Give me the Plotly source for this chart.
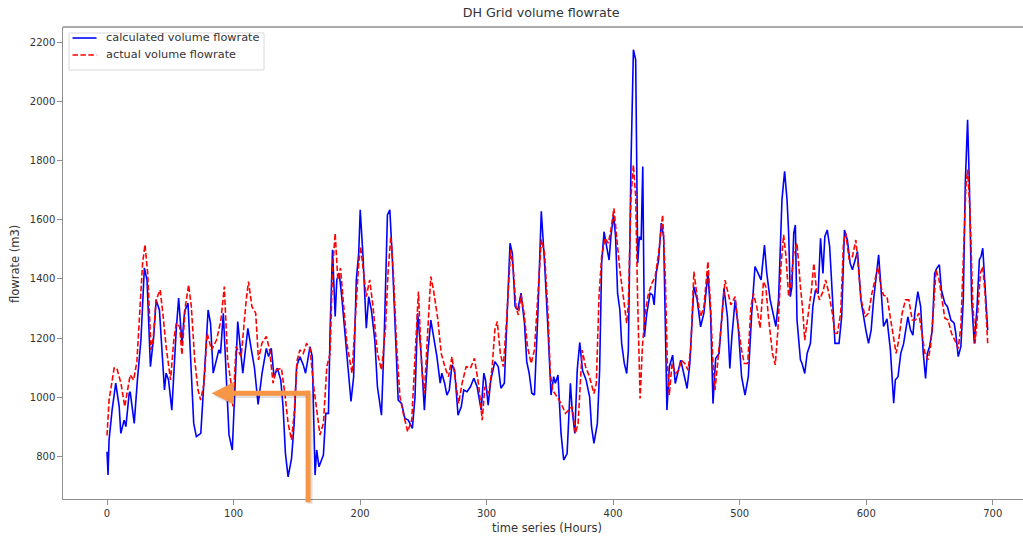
import plotly.graph_objects as go

# ---- data (hours, m3) ----
calc_hours = [0, 0.8, 1.6, 4, 6.9, 9.6, 10.9, 13.5, 14.9, 17.5, 18.3, 21.5, 24, 26.8, 29.5, 31.6, 34.3, 36.9, 38.8, 41.4,
              45.4, 46.7, 48.6, 51.2, 54.7, 56.6, 59.2, 61.3, 64, 68.5, 70.6, 74.1, 77.3, 79.9, 81.8, 83.9, 88.4, 89.7, 91.9, 94.5,
              96.4, 99, 100.5, 103.3, 107.3, 111.3, 113.9, 116.5, 119.4, 122.5, 125.9, 127.7, 129.8, 132, 134.6, 137.3, 139.1, 141, 143.1, 145.8,
              147.9, 149.8, 152.4, 155.1, 156.9, 158.5, 160.4, 162.2, 164.4, 165.7, 167.5, 171, 172.9, 175, 176.3, 178.2, 180.3, 181.6, 183.5, 185.5,
              187.7, 190.4, 192.8, 194.9, 197, 198.9, 200.1, 202.3, 204.9, 206.8, 208.9, 211.6, 213.7, 216.9, 219, 221.6, 223.5, 225.4, 227.5, 230.1,
              232.8, 235.4, 238.1, 241.3, 243.4, 245.5, 248.2, 250.8, 253.5, 255.9, 258.5, 260.7, 263.3, 264.6, 266.8, 268.6, 270.5, 272.6, 274.7, 277.4,
              280, 281.9, 284.5, 287.2, 289.9, 292.5, 295.7, 297.8, 299.1, 301.2, 303.3, 306.5, 309.2, 311.3, 314, 316.1, 318.5, 320.3, 322.5, 324.6,
              327.2, 329.9, 331.7, 333.6, 335.7, 337.8, 340.5, 343.2, 345.8, 348.5, 350.9, 353, 354.3, 356.4, 358.8, 360.9, 363.6, 366.2, 367.6, 369.7,
              371.6, 373.6, 375.8, 378.5, 381.4, 382.9, 384.8, 387.5, 389.3, 390.9, 392.8, 394.6, 396.8, 398.2, 400.3, 401.9, 403.5, 405.3, 406.7, 408.8,
              410.7, 412, 414.1, 416, 417.8, 419.4, 420.7, 422.1, 423.4, 424.7, 426.6, 429.2, 431.1, 432.4, 434, 435.9, 438, 439.9, 441.2, 442.5,
              444.4, 447, 449.1, 451.3, 453.4, 455.8, 458.4, 460.6, 463.8, 466.4, 469.1, 471.7, 474.9, 477, 478.9, 481, 483.7, 487.6, 490.3, 492.2,
              493.8, 496.4, 498.9, 501.5, 504.2, 506.8, 509.5, 512.1, 514.8, 516.9, 519.6, 521.4, 524.1, 526.7, 528.6, 530.7, 533.4, 535.5, 537.4, 538.7,
              540, 541.3, 542.7, 544, 545.3, 548, 549.3, 551.4, 553.3, 555.9, 557.8, 559.9, 562, 563.9, 565.8, 567.3, 569.2, 571.1, 573.2, 575.3,
              578.5, 580.6, 582.8, 585.1, 587.3, 589.1, 591.3, 593.1, 595.8, 597.8, 599.7, 601.8, 603.9, 605.8, 607.6, 609.8, 611.6, 613.7, 616.4, 619.1,
              621.7, 623, 625.1, 627.3, 629.5, 631, 632.9, 635, 636.9, 638.4, 640.8, 643, 645.1, 646.9, 648.3, 650.1, 652.2, 654.1, 655.7, 657.8,
              659.4, 662.1, 664.2, 666.9, 669.5, 670.8, 672.7, 674.8, 676.7, 678.3, 680.1, 681.5, 683.3, 685.4, 687.6, 689.4, 690.7, 692.1, 693.9, 696]
calc_flow = [815, 736, 855, 956, 1047, 968, 877, 922, 900, 1013, 1018, 911, 1058, 1194, 1437, 1397, 1103, 1205, 1329, 1295,
             1024, 1081, 1058, 956, 1228, 1335, 1182, 1290, 1318, 911, 866, 877, 1103, 1295, 1250, 1081, 1160, 1148, 1284, 1013,
             872, 821, 956, 1256, 1081, 1233, 1165, 1100, 975, 1080, 1165, 1137, 1165, 1069, 1098, 1058, 968, 809, 730, 792,
             911, 1103, 1137, 1109, 1081, 1126, 1171, 1137, 736, 821, 764, 804, 945, 945, 1228, 1499, 1273, 1397, 1420, 1340,
             1228, 1081, 985, 1069, 1397, 1487, 1634, 1476, 1233, 1340, 1295, 1194, 1035, 939, 1194, 1617, 1634, 1476, 1228, 990,
             979, 928, 922, 894, 1000, 1284, 1148, 956, 1148, 1261, 1194, 1137, 1047, 1081, 1047, 1007, 1024, 1109, 1092, 939,
             968, 1024, 1018, 1035, 1064, 1035, 956, 1081, 1058, 973, 1058, 1120, 1103, 1030, 1047, 1284, 1521, 1487, 1307, 1295,
             1352, 1250, 1120, 1081, 1013, 1007, 1284, 1629, 1453, 1228, 1007, 1069, 1047, 1075, 877, 787, 809, 1047, 956, 877,
             1092, 1185, 1090, 1060, 1001, 899, 843, 911, 1091, 1453, 1560, 1515, 1464, 1543, 1617, 1543, 1351, 1295, 1182, 1114,
             1080, 1159, 1792, 2176, 2142, 1453, 1543, 1532, 1781, 1204, 1284, 1351, 1346, 1312, 1419, 1464, 1589, 1543, 1250, 956,
             1103, 1142, 1046, 1091, 1125, 1080, 1029, 1114, 1374, 1329, 1238, 1284, 1419, 1284, 978, 1131, 1148, 1368, 1272, 1097,
             1204, 1329, 1235, 1069, 1007, 1069, 1284, 1442, 1419, 1397, 1515, 1419, 1329, 1272, 1239, 1329, 1668, 1764, 1668, 1555,
             1340, 1374, 1555, 1583, 1261, 1126, 1114, 1080, 1148, 1182, 1306, 1363, 1351, 1538, 1419, 1544, 1566, 1510, 1351, 1182,
             1182, 1272, 1566, 1532, 1453, 1431, 1465, 1493, 1329, 1272, 1227, 1182, 1227, 1329, 1397, 1482, 1374, 1239, 1265, 1160,
             979, 1058, 1069, 1148, 1180, 1216, 1272, 1227, 1210, 1284, 1357, 1306, 1148, 1063, 1148, 1171, 1227, 1419, 1436, 1448,
             1363, 1318, 1306, 1261, 1250, 1216, 1137, 1171, 1329, 1724, 1939, 1724, 1329, 1182, 1306, 1465, 1476, 1504, 1385, 1227]

actual_hours = [0, 1.6, 5.6, 7.7, 11, 14, 18.3, 21, 23.6, 25.5, 28.1, 30, 32.1, 34.8, 36.6, 38.8, 42, 44.1, 46.7, 50.2,
                52.8, 54.7, 57.4, 59.2, 61.9, 64.5, 66.6, 69.3, 71.9, 74, 76.7, 79.1, 82.6, 86.6, 90, 92.7, 95.3, 98, 99.5, 102,
                106, 110, 111.8, 114.5, 117.5, 119.7, 122.4, 125.9, 128.5, 131.2, 133.8, 137.8, 140.5, 143.1, 145.8, 147.9, 150.3, 152.4, 155.1, 157.7,
                160.4, 163, 165.7, 168.3, 171, 173.7, 176.3, 178.2, 180.3, 182.4, 184.5, 186.9, 189.5, 193.6, 196.2, 198.9, 200.4, 202.3, 204.9, 207.6,
                210.2, 213.7, 216.9, 220, 222.2, 224.3, 226.2, 228.9, 231.5, 234.1, 237.6, 240.8, 243.4, 246.1, 248.7, 250.8, 253.5, 255.9, 258, 261.5,
                264.1, 267.3, 269.9, 272.6, 275.3, 277.9, 280.6, 283.8, 287.2, 290.4, 293.9, 296.5, 298.6, 301.7, 304.4, 306.5, 308.4, 310.8, 313.2, 315.8,
                319, 321.1, 323.3, 325.1, 327.2, 329.6, 332.3, 335.2, 337.8, 340.5, 343.2, 345.8, 348.5, 350.3, 352.2, 355.6, 358.8, 362.3, 364.9, 367.6,
                370.2, 372.3, 375.5, 378.2, 381.3, 384.8, 386.7, 388.8, 390.9, 393.6, 396.2, 398.2, 400.6, 402.7, 405.3, 408, 410.7, 412, 414.1, 416,
                417.8, 419.4, 421.3, 423.1, 425.3, 427.9, 430.6, 433.2, 435.9, 439.1, 441.2, 442.8, 444.4, 446.5, 449.1, 451.8, 453.9, 456.6, 459.2, 461.4,
                463.8, 466.4, 469.1, 471.7, 474.9, 477, 478.9, 480.5, 483.1, 485.8, 488.4, 491.1, 493, 496.4, 498.9, 501.5, 503.6, 506.3, 508.9, 510.8,
                513.5, 516.1, 518.8, 520.6, 522.7, 525.9, 528.1, 530.2, 532.6, 534.7, 536.6, 538.7, 540.5, 542.7, 545.3, 548, 549.8, 551.4, 554.1, 556.7,
                558.6, 560.7, 563.1, 565.8, 567.9, 570.5, 573.2, 575.3, 577.2, 579.8, 582, 583.8, 586.5, 589.1, 591.8, 593.9, 596, 599.2, 601.8, 604.5,
                607.1, 609.3, 611.6, 613.7, 616.4, 619.1, 621.7, 623.6, 625.7, 628.4, 631, 633.7, 636.3, 639, 641.6, 644.3, 646.4, 648.8, 650.9, 653.1,
                655.2, 657.6, 659.7, 662.1, 664.7, 667.4, 670, 672.7, 674.8, 676.9, 678.8, 680.1, 682, 684.1, 686, 688.1, 690.2, 692.1, 693.9, 696]
actual_flow = [870, 990, 1098, 1098, 1047, 968, 1075, 1058, 1120, 1261, 1453, 1516, 1420, 1160, 1205, 1329, 1363, 1284, 1171, 1058,
               1194, 1250, 1239, 1143, 1307, 1380, 1307, 1126, 1024, 990, 1047, 1216, 1160, 1194, 1261, 1374, 1126, 1047, 968, 1171,
               1137, 1329, 1391, 1307, 1284, 1126, 1182, 1205, 1160, 1047, 1092, 1098, 1013, 911, 855, 945, 1126, 1160, 1148, 1182,
               1165, 1047, 956, 872, 911, 1103, 1148, 1431, 1555, 1397, 1437, 1307, 1182, 1081, 1250, 1453, 1510, 1442, 1340, 1397,
               1307, 1148, 1092, 1228, 1431, 1544, 1431, 1171, 1001, 945, 883, 922, 1148, 1357, 1103, 1013, 1228, 1408, 1363, 1261,
               1148, 1098, 1069, 1137, 1058, 979, 1047, 1103, 1098, 1131, 1035, 922, 1035, 1013, 1103, 1228, 1256, 1148, 1103, 1261,
               1499, 1431, 1301, 1278, 1346, 1284, 1171, 1114, 1160, 1340, 1533, 1487, 1284, 1081, 1024, 1001, 979, 945, 956, 968,
               877, 911, 1159, 1103, 1069, 1012, 1046, 1340, 1476, 1538, 1521, 1566, 1639, 1543, 1430, 1340, 1250, 1317, 1679, 1786,
               1679, 1317, 995, 1170, 1284, 1351, 1385, 1408, 1487, 1617, 1408, 1114, 1007, 1114, 1080, 1091, 1125, 1114, 1091, 1170,
               1425, 1340, 1272, 1306, 1459, 1306, 1114, 1024, 1137, 1261, 1396, 1340, 1312, 1340, 1238, 1159, 1114, 1114, 1306, 1351,
               1306, 1233, 1391, 1374, 1272, 1148, 1109, 1227, 1442, 1549, 1476, 1340, 1385, 1487, 1521, 1374, 1295, 1193, 1284, 1363,
               1453, 1363, 1329, 1357, 1397, 1351, 1284, 1216, 1216, 1284, 1521, 1555, 1465, 1476, 1532, 1419, 1329, 1272, 1284, 1351,
               1397, 1442, 1374, 1345, 1340, 1272, 1193, 1148, 1193, 1284, 1329, 1329, 1261, 1261, 1284, 1216, 1148, 1126, 1171, 1295,
               1431, 1397, 1329, 1267, 1261, 1216, 1193, 1165, 1239, 1465, 1713, 1770, 1634, 1329, 1182, 1284, 1419, 1442, 1351, 1182]

x_ticks = [0, 100, 200, 300, 400, 500, 600, 700]
y_ticks = [800, 1000, 1200, 1400, 1600, 1800, 2000, 2200]
series_names = ["calculated volume flowrate", "actual volume flowrate"]
series_colors = ["#0000ff", "#ff0000"]
series_dash = ["solid", "5.5px,2.4px"]

FONT = "DejaVu Sans"
TXT = "#333333"
SPINE = "#8f8f8f"
ORANGE = "#F79646"
LW = 1.6

fig = go.Figure()
fig.add_trace(go.Scatter(x=calc_hours, y=calc_flow, mode="lines", name=series_names[0],
                         line=dict(color=series_colors[0], width=LW, dash=series_dash[0])))
fig.add_trace(go.Scatter(x=actual_hours, y=actual_flow, mode="lines", name=series_names[1],
                         line=dict(color=series_colors[1], width=LW, dash=series_dash[1])))

fig.update_layout(
    width=1023, height=538,
    margin=dict(l=63, r=0, t=27, b=39),
    paper_bgcolor="white", plot_bgcolor="white",
    font=dict(family=FONT, size=10, color=TXT),
    showlegend=False,
    title=dict(text="DH Grid volume flowrate", x=0.529, xanchor="center", y=0.976, yanchor="middle",
               font=dict(family=FONT, size=12.7, color=TXT)),
)
fig.update_xaxes(range=[-34.8, 723.9], tickmode="array", tickvals=x_ticks, ticktext=[str(v) for v in x_ticks],
                 showgrid=False, zeroline=False, showline=True, linecolor=SPINE, linewidth=1.4,
                 ticks="outside", ticklen=4.5, tickcolor=SPINE, tickwidth=1,
                 tickfont=dict(family=FONT, size=10, color=TXT))
fig.update_yaxes(range=[655, 2253], tickmode="array", tickvals=y_ticks, ticktext=[str(v) for v in y_ticks],
                 showgrid=False, zeroline=False, showline=True, linecolor=SPINE, linewidth=1.4,
                 ticks="outside", ticklen=4.5, tickcolor=SPINE, tickwidth=1,
                 tickfont=dict(family=FONT, size=10, color=TXT))

# top spine
fig.add_shape(type="line", xref="paper", yref="paper", x0=0, x1=1, y0=1, y1=1,
              line=dict(color=SPINE, width=1.4))

# axis labels
fig.add_annotation(text="time series (Hours)", xref="paper", yref="paper", x=0.504, y=-0.062,
                   yanchor="middle", xanchor="center", showarrow=False,
                   font=dict(family=FONT, size=11.5, color=TXT))
fig.add_annotation(text="flowrate (m3)", xref="paper", yref="paper", x=-0.05, y=0.498,
                   xanchor="center", yanchor="middle", textangle=-90, showarrow=False,
                   font=dict(family=FONT, size=11.5, color=TXT))

# legend (matplotlib style: compact box, upper left)
fig.add_shape(type="rect", xref="paper", yref="paper", x0=0.00625, x1=0.2094, y0=0.9089, y1=0.9873,
              line=dict(color="#d9d9d9", width=1), fillcolor="rgba(255,255,255,0.8)", layer="above")
legend_rows = [0.9767, 0.9407]
for name, color, dash, ly in zip(series_names, series_colors, series_dash, legend_rows):
    fig.add_shape(type="line", xref="paper", yref="paper", x0=0.0099, x1=0.0349, y0=ly, y1=ly,
                  line=dict(color=color, width=LW, dash=dash), layer="above")
    fig.add_annotation(text=name, xref="paper", yref="paper", x=0.0427, y=ly,
                       xanchor="left", yanchor="middle", showarrow=False,
                       font=dict(family=FONT, size=11.3, color=TXT))

# orange call-out arrow (overlay)
arrow_tip = (82.6, 1013)
arrow_corner_x = 158.9
fig.add_shape(type="line", xref="x", yref="paper", x0=arrow_corner_x + 1.6, x1=arrow_corner_x + 1.6,
              y0=-0.01, y1=0.222, line=dict(color="rgba(0,0,0,0.12)", width=5))
fig.add_shape(type="line", xref="x", yref="paper", x0=arrow_corner_x, x1=arrow_corner_x,
              y0=-0.0072, y1=0.2296, line=dict(color=ORANGE, width=5))
fig.add_annotation(x=arrow_tip[0] + 1.5, y=arrow_tip[1] - 8, ax=arrow_corner_x, ay=arrow_tip[1] - 8,
                   xref="x", yref="y", axref="x", ayref="y", text="", showarrow=True,
                   arrowhead=2, arrowsize=0.9, arrowwidth=5, arrowcolor="rgba(0,0,0,0.12)")
fig.add_annotation(x=arrow_tip[0], y=arrow_tip[1], ax=arrow_corner_x + 2, ay=arrow_tip[1],
                   xref="x", yref="y", axref="x", ayref="y", text="", showarrow=True,
                   arrowhead=2, arrowsize=0.9, arrowwidth=5, arrowcolor=ORANGE)

fig.write_html("out.html")
